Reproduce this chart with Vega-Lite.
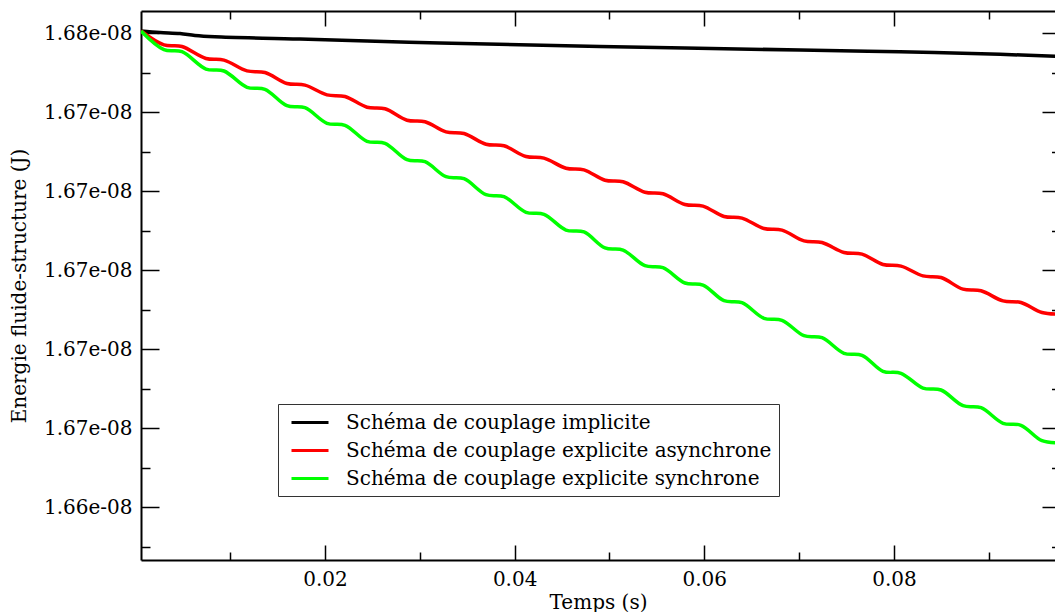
{
  "$schema": "https://vega.github.io/schema/vega-lite/v6.json",
  "width": 914,
  "height": 549,
  "autosize": {"type": "none"},
  "padding": {"left": 141, "top": 11, "right": 0, "bottom": 52},
  "background": "white",
  "config": {
    "view": {"stroke": null},
    "font": "DejaVu Serif",
    "axis": {
      "grid": false,
      "domainColor": "black",
      "domainWidth": 2,
      "tickColor": "black",
      "tickWidth": 1.5,
      "labelFont": "DejaVu Serif",
      "labelFontSize": 20,
      "labelColor": "black",
      "labelFlush": false,
      "labelOverlap": false,
      "titleFont": "DejaVu Serif",
      "titleFontSize": 20,
      "titleFontWeight": "normal",
      "titleColor": "black"
    }
  },
  "data": {
    "values": [
      {"t": 0.0006, "E": 1.676058e-8, "s": "Schéma de couplage implicite"},
      {"t": 0.0026, "E": 1.67602e-8, "s": "Schéma de couplage implicite"},
      {"t": 0.00471, "E": 1.675995e-8, "s": "Schéma de couplage implicite"},
      {"t": 0.00629, "E": 1.675944e-8, "s": "Schéma de couplage implicite"},
      {"t": 0.0084, "E": 1.675911e-8, "s": "Schéma de couplage implicite"},
      {"t": 0.01736, "E": 1.675856e-8, "s": "Schéma de couplage implicite"},
      {"t": 0.03213, "E": 1.675754e-8, "s": "Schéma de couplage implicite"},
      {"t": 0.049, "E": 1.675666e-8, "s": "Schéma de couplage implicite"},
      {"t": 0.07009, "E": 1.675577e-8, "s": "Schéma de couplage implicite"},
      {"t": 0.08063, "E": 1.675532e-8, "s": "Schéma de couplage implicite"},
      {"t": 0.09118, "E": 1.675468e-8, "s": "Schéma de couplage implicite"},
      {"t": 0.09751, "E": 1.675413e-8, "s": "Schéma de couplage implicite"},

      {"t": 0.0006, "E": 1.676058e-8, "s": "Schéma de couplage explicite asynchrone"},
      {"t": 0.00302, "E": 1.675706e-8, "s": "Schéma de couplage explicite asynchrone"},
      {"t": 0.00492, "E": 1.675666e-8, "s": "Schéma de couplage explicite asynchrone"},
      {"t": 0.00745, "E": 1.675362e-8, "s": "Schéma de couplage explicite asynchrone"},
      {"t": 0.00935, "E": 1.675322e-8, "s": "Schéma de couplage explicite asynchrone"},
      {"t": 0.01178, "E": 1.675048e-8, "s": "Schéma de couplage explicite asynchrone"},
      {"t": 0.01367, "E": 1.675008e-8, "s": "Schéma de couplage explicite asynchrone"},
      {"t": 0.01599, "E": 1.674729e-8, "s": "Schéma de couplage explicite asynchrone"},
      {"t": 0.01789, "E": 1.674689e-8, "s": "Schéma de couplage explicite asynchrone"},
      {"t": 0.02021, "E": 1.674441e-8, "s": "Schéma de couplage explicite asynchrone"},
      {"t": 0.02211, "E": 1.6744e-8, "s": "Schéma de couplage explicite asynchrone"},
      {"t": 0.02443, "E": 1.674129e-8, "s": "Schéma de couplage explicite asynchrone"},
      {"t": 0.02633, "E": 1.674089e-8, "s": "Schéma de couplage explicite asynchrone"},
      {"t": 0.02865, "E": 1.6738e-8, "s": "Schéma de couplage explicite asynchrone"},
      {"t": 0.03055, "E": 1.67376e-8, "s": "Schéma de couplage explicite asynchrone"},
      {"t": 0.03276, "E": 1.673504e-8, "s": "Schéma de couplage explicite asynchrone"},
      {"t": 0.03466, "E": 1.673463e-8, "s": "Schéma de couplage explicite asynchrone"},
      {"t": 0.03698, "E": 1.673192e-8, "s": "Schéma de couplage explicite asynchrone"},
      {"t": 0.03888, "E": 1.673152e-8, "s": "Schéma de couplage explicite asynchrone"},
      {"t": 0.0412, "E": 1.672881e-8, "s": "Schéma de couplage explicite asynchrone"},
      {"t": 0.04309, "E": 1.672841e-8, "s": "Schéma de couplage explicite asynchrone"},
      {"t": 0.04541, "E": 1.672585e-8, "s": "Schéma de couplage explicite asynchrone"},
      {"t": 0.04731, "E": 1.672544e-8, "s": "Schéma de couplage explicite asynchrone"},
      {"t": 0.04953, "E": 1.672281e-8, "s": "Schéma de couplage explicite asynchrone"},
      {"t": 0.05143, "E": 1.672241e-8, "s": "Schéma de couplage explicite asynchrone"},
      {"t": 0.05374, "E": 1.671977e-8, "s": "Schéma de couplage explicite asynchrone"},
      {"t": 0.05564, "E": 1.671937e-8, "s": "Schéma de couplage explicite asynchrone"},
      {"t": 0.05796, "E": 1.671666e-8, "s": "Schéma de couplage explicite asynchrone"},
      {"t": 0.05986, "E": 1.671625e-8, "s": "Schéma de couplage explicite asynchrone"},
      {"t": 0.06208, "E": 1.671362e-8, "s": "Schéma de couplage explicite asynchrone"},
      {"t": 0.06397, "E": 1.671322e-8, "s": "Schéma de couplage explicite asynchrone"},
      {"t": 0.06629, "E": 1.671058e-8, "s": "Schéma de couplage explicite asynchrone"},
      {"t": 0.06819, "E": 1.671018e-8, "s": "Schéma de couplage explicite asynchrone"},
      {"t": 0.07051, "E": 1.670744e-8, "s": "Schéma de couplage explicite asynchrone"},
      {"t": 0.07241, "E": 1.670704e-8, "s": "Schéma de couplage explicite asynchrone"},
      {"t": 0.07473, "E": 1.670451e-8, "s": "Schéma de couplage explicite asynchrone"},
      {"t": 0.07663, "E": 1.67041e-8, "s": "Schéma de couplage explicite asynchrone"},
      {"t": 0.07884, "E": 1.670147e-8, "s": "Schéma de couplage explicite asynchrone"},
      {"t": 0.08074, "E": 1.670106e-8, "s": "Schéma de couplage explicite asynchrone"},
      {"t": 0.08306, "E": 1.669858e-8, "s": "Schéma de couplage explicite asynchrone"},
      {"t": 0.08496, "E": 1.669818e-8, "s": "Schéma de couplage explicite asynchrone"},
      {"t": 0.08728, "E": 1.669522e-8, "s": "Schéma de couplage explicite asynchrone"},
      {"t": 0.08918, "E": 1.669481e-8, "s": "Schéma de couplage explicite asynchrone"},
      {"t": 0.0915, "E": 1.669225e-8, "s": "Schéma de couplage explicite asynchrone"},
      {"t": 0.09339, "E": 1.669185e-8, "s": "Schéma de couplage explicite asynchrone"},
      {"t": 0.09561, "E": 1.668932e-8, "s": "Schéma de couplage explicite asynchrone"},
      {"t": 0.09751, "E": 1.668891e-8, "s": "Schéma de couplage explicite asynchrone"},

      {"t": 0.0006, "E": 1.676058e-8, "s": "Schéma de couplage explicite synchrone"},
      {"t": 0.00302, "E": 1.675585e-8, "s": "Schéma de couplage explicite synchrone"},
      {"t": 0.00492, "E": 1.675534e-8, "s": "Schéma de couplage explicite synchrone"},
      {"t": 0.00745, "E": 1.675096e-8, "s": "Schéma de couplage explicite synchrone"},
      {"t": 0.00935, "E": 1.675046e-8, "s": "Schéma de couplage explicite synchrone"},
      {"t": 0.01178, "E": 1.674633e-8, "s": "Schéma de couplage explicite synchrone"},
      {"t": 0.01367, "E": 1.674582e-8, "s": "Schéma de couplage explicite synchrone"},
      {"t": 0.01599, "E": 1.674167e-8, "s": "Schéma de couplage explicite synchrone"},
      {"t": 0.01789, "E": 1.674116e-8, "s": "Schéma de couplage explicite synchrone"},
      {"t": 0.02021, "E": 1.673722e-8, "s": "Schéma de couplage explicite synchrone"},
      {"t": 0.02211, "E": 1.673671e-8, "s": "Schéma de couplage explicite synchrone"},
      {"t": 0.02443, "E": 1.673266e-8, "s": "Schéma de couplage explicite synchrone"},
      {"t": 0.02633, "E": 1.673215e-8, "s": "Schéma de couplage explicite synchrone"},
      {"t": 0.02865, "E": 1.6728e-8, "s": "Schéma de couplage explicite synchrone"},
      {"t": 0.03055, "E": 1.672749e-8, "s": "Schéma de couplage explicite synchrone"},
      {"t": 0.03276, "E": 1.67237e-8, "s": "Schéma de couplage explicite synchrone"},
      {"t": 0.03466, "E": 1.672319e-8, "s": "Schéma de couplage explicite synchrone"},
      {"t": 0.03698, "E": 1.671914e-8, "s": "Schéma de couplage explicite synchrone"},
      {"t": 0.03888, "E": 1.671863e-8, "s": "Schéma de couplage explicite synchrone"},
      {"t": 0.0412, "E": 1.671468e-8, "s": "Schéma de couplage explicite synchrone"},
      {"t": 0.04309, "E": 1.671418e-8, "s": "Schéma de couplage explicite synchrone"},
      {"t": 0.04541, "E": 1.67102e-8, "s": "Schéma de couplage explicite synchrone"},
      {"t": 0.04731, "E": 1.67097e-8, "s": "Schéma de couplage explicite synchrone"},
      {"t": 0.04953, "E": 1.670565e-8, "s": "Schéma de couplage explicite synchrone"},
      {"t": 0.05143, "E": 1.670514e-8, "s": "Schéma de couplage explicite synchrone"},
      {"t": 0.05374, "E": 1.670117e-8, "s": "Schéma de couplage explicite synchrone"},
      {"t": 0.05564, "E": 1.670066e-8, "s": "Schéma de couplage explicite synchrone"},
      {"t": 0.05796, "E": 1.669679e-8, "s": "Schéma de couplage explicite synchrone"},
      {"t": 0.05986, "E": 1.669628e-8, "s": "Schéma de couplage explicite synchrone"},
      {"t": 0.06208, "E": 1.66923e-8, "s": "Schéma de couplage explicite synchrone"},
      {"t": 0.06397, "E": 1.66918e-8, "s": "Schéma de couplage explicite synchrone"},
      {"t": 0.06629, "E": 1.668785e-8, "s": "Schéma de couplage explicite synchrone"},
      {"t": 0.06819, "E": 1.668734e-8, "s": "Schéma de couplage explicite synchrone"},
      {"t": 0.07051, "E": 1.668344e-8, "s": "Schéma de couplage explicite synchrone"},
      {"t": 0.07241, "E": 1.668294e-8, "s": "Schéma de couplage explicite synchrone"},
      {"t": 0.07473, "E": 1.667899e-8, "s": "Schéma de couplage explicite synchrone"},
      {"t": 0.07663, "E": 1.667848e-8, "s": "Schéma de couplage explicite synchrone"},
      {"t": 0.07884, "E": 1.667443e-8, "s": "Schéma de couplage explicite synchrone"},
      {"t": 0.08074, "E": 1.667393e-8, "s": "Schéma de couplage explicite synchrone"},
      {"t": 0.08306, "E": 1.66702e-8, "s": "Schéma de couplage explicite synchrone"},
      {"t": 0.08496, "E": 1.66697e-8, "s": "Schéma de couplage explicite synchrone"},
      {"t": 0.08728, "E": 1.666572e-8, "s": "Schéma de couplage explicite synchrone"},
      {"t": 0.08918, "E": 1.666522e-8, "s": "Schéma de couplage explicite synchrone"},
      {"t": 0.0915, "E": 1.666127e-8, "s": "Schéma de couplage explicite synchrone"},
      {"t": 0.09339, "E": 1.666076e-8, "s": "Schéma de couplage explicite synchrone"},
      {"t": 0.09561, "E": 1.665686e-8, "s": "Schéma de couplage explicite synchrone"},
      {"t": 0.09751, "E": 1.665636e-8, "s": "Schéma de couplage explicite synchrone"}
    ]
  },
  "layer": [
    {
      "mark": {"type": "line", "interpolate": "catmull-rom", "strokeWidth": 3.5, "clip": true},
      "encoding": {
        "x": {
          "field": "t",
          "type": "quantitative",
          "scale": {"domain": [0.0006, 0.09698], "nice": false, "zero": false},
          "axis": {
            "orient": "bottom",
            "values": [0.01, 0.02, 0.03, 0.04, 0.05, 0.06, 0.07, 0.08, 0.09],
            "labelExpr": "round(datum.value*100) % 2 == 0 ? format(datum.value, '.2f') : ''",
            "tickSize": {"condition": {"test": "round(datum.value*100) % 2 == 0", "value": -15}, "value": -8},
            "labelPadding": 24,
            "title": "Temps (s)",
            "titlePadding": -4
          }
        },
        "y": {
          "field": "E",
          "type": "quantitative",
          "scale": {"domain": [1.662666e-8, 1.676565e-8], "nice": false, "zero": false},
          "axis": {
            "orient": "left",
            "values": [1.663e-8, 1.664e-8, 1.665e-8, 1.666e-8, 1.667e-8, 1.668e-8, 1.669e-8, 1.67e-8, 1.671e-8, 1.672e-8, 1.673e-8, 1.674e-8, 1.675e-8, 1.676e-8],
            "labelExpr": "round(datum.value*1e11) % 2 == 0 ? replace(format(datum.value, '.2e'), 'e-8', 'e-08') : ''",
            "tickSize": {"condition": {"test": "round(datum.value*1e11) % 2 == 0", "value": -18}, "value": -9},
            "labelPadding": 27,
            "title": "Energie fluide-structure (J)",
            "titlePadding": 14
          }
        },
        "color": {
          "field": "s",
          "type": "nominal",
          "scale": {
            "domain": ["Schéma de couplage implicite", "Schéma de couplage explicite asynchrone", "Schéma de couplage explicite synchrone"],
            "range": ["#000000", "#ff0000", "#00ff00"]
          },
          "legend": {
            "orient": "none",
            "legendX": 137,
            "legendY": 393,
            "title": null,
            "strokeColor": "#333333",
            "fillColor": "white",
            "padding": 7,
            "symbolType": "M-0.5,0H3.2",
            "symbolSize": 400,
            "symbolStrokeWidth": 3,
            "labelFont": "DejaVu Serif",
            "labelFontSize": 20,
            "labelColor": "black",
            "labelOffset": 38,
            "labelLimit": 1000,
            "rowPadding": 6
          }
        }
      }
    },
    {
      "mark": {"type": "line", "opacity": 0, "clip": true},
      "encoding": {
        "x": {
          "field": "t",
          "type": "quantitative",
          "scale": {"domain": [0.0006, 0.09698], "nice": false, "zero": false},
          "axis": {
            "orient": "top",
            "values": [0.01, 0.02, 0.03, 0.04, 0.05, 0.06, 0.07, 0.08, 0.09],
            "labels": false,
            "tickSize": {"condition": {"test": "round(datum.value*100) % 2 == 0", "value": -15}, "value": -8},
            "title": null
          }
        },
        "y": {
          "field": "E",
          "type": "quantitative",
          "scale": {"domain": [1.662666e-8, 1.676565e-8], "nice": false, "zero": false},
          "axis": {
            "orient": "right",
            "values": [1.663e-8, 1.664e-8, 1.665e-8, 1.666e-8, 1.667e-8, 1.668e-8, 1.669e-8, 1.67e-8, 1.671e-8, 1.672e-8, 1.673e-8, 1.674e-8, 1.675e-8, 1.676e-8],
            "labels": false,
            "domain": false,
            "tickSize": {"condition": {"test": "round(datum.value*1e11) % 2 == 0", "value": -13}, "value": -3.5},
            "title": null
          }
        },
        "detail": {"field": "s", "type": "nominal"}
      }
    }
  ],
  "resolve": {"scale": {"x": "independent", "y": "independent"}}
}
